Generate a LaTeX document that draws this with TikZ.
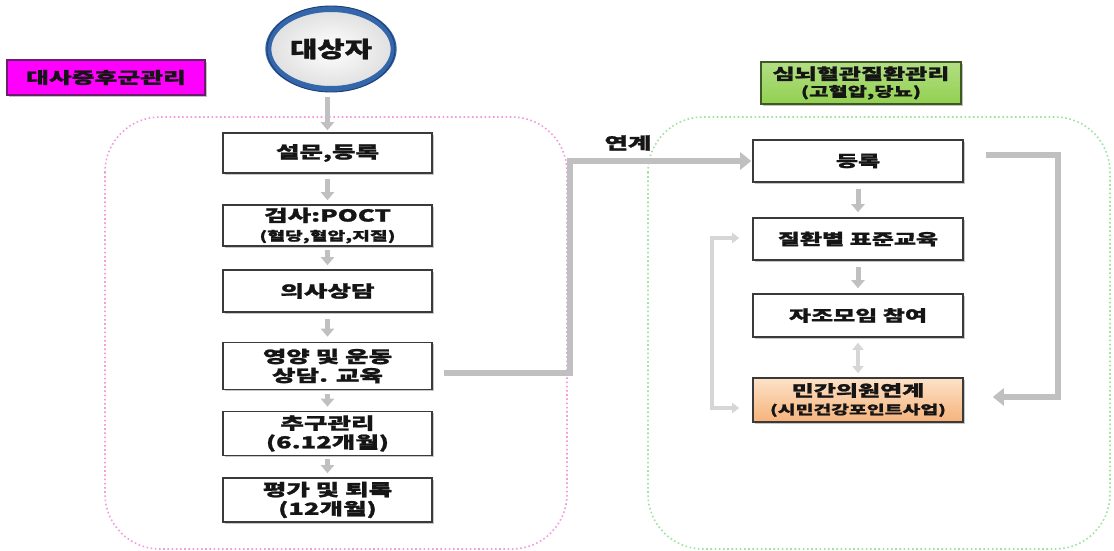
\documentclass[tikz,border=0pt]{standalone}
\usepackage{fontspec}
\usetikzlibrary{arrows.meta,shadows,shapes.geometric}
\newfontfamily\krA[FakeStretch=1.55, BoldFeatures={FakeBold=1.3}]{Noto Sans CJK KR}
\newfontfamily\krB[FakeStretch=1.35, BoldFeatures={FakeBold=1.3}]{Noto Sans CJK KR}
\definecolor{arrgray}{HTML}{C0C0C0}
\definecolor{lightarr}{HTML}{D6D6D6}
\definecolor{boxline}{HTML}{3A3A3A}
\definecolor{pinkdot}{HTML}{F39BDD}
\definecolor{greendot}{HTML}{9EE39E}
\definecolor{magentafill}{HTML}{FF00FF}
\definecolor{magentaline}{HTML}{6B1E6B}
\definecolor{greenfill}{HTML}{92D050}
\definecolor{greenline}{HTML}{3D5A22}
\definecolor{orangetop}{HTML}{FCE2C8}
\definecolor{orangebot}{HTML}{F7B27A}
\definecolor{ringblue}{HTML}{3366AA}
\definecolor{ringdark}{HTML}{1F3F72}
\definecolor{txt}{HTML}{151515}
\tikzset{
  stepbox/.style={rectangle, draw=boxline, line width=1.6pt, fill=white,
    minimum width=209pt, align=center, text=txt, inner sep=0pt,
    drop shadow={shadow xshift=1.5pt, shadow yshift=-1.5pt, fill=gray!55, opacity=0.8}},
  labelbox/.style={rectangle, line width=1.6pt, align=center, text=txt, inner sep=0pt,
    drop shadow={shadow xshift=1.5pt, shadow yshift=-1.5pt, fill=gray!60, opacity=0.8}},
  bigt/.style={font=\krA\bfseries\fontsize{16.5}{19}\selectfont},
  rightt/.style={font=\krA\bfseries\fontsize{15.5}{18}\selectfont},
  gdown/.style={draw=arrgray, line width=5pt, -{Triangle[width=13pt,length=8pt]}},
  gthick/.style={draw=arrgray, line width=6.5pt, -{Triangle[width=17pt,length=11pt]}},
  gthin/.style={draw=lightarr, line width=3.5pt},
  pinkcont/.style={draw=pinkdot, line width=1.6pt, dash pattern=on 1.6pt off 2.6pt},
  greencont/.style={draw=greendot, line width=1.6pt, dash pattern=on 1.6pt off 2.6pt},
}
\newcommand{\smallkr}{\krA\bfseries\fontsize{12.5}{14}\selectfont}
\begin{document}
\begin{tikzpicture}[x=1pt,y=-1pt]
\useasboundingbox (0,0) rectangle (1114,550);
\fill[white] (0,0) rectangle (1114,550);

% containers
\draw[pinkcont, rounded corners=55pt] (105,117) rectangle (567,549);
\draw[greencont, rounded corners=55pt] (648,117) rectangle (1110,549);

% labels
\node[labelbox, draw=magentaline, fill=magentafill, minimum width=198pt, minimum height=35pt,
  font=\krA\bfseries\fontsize{16}{18}\selectfont] (m) at (106,77.5) {대사증후군관리};
\node[labelbox, draw=greenline, top color=greenfill!70!white, bottom color=greenfill,
  minimum width=200pt, minimum height=42pt,
  font=\krA\bfseries\fontsize{15.5}{17}\selectfont] (g) at (861,83)
  {심뇌혈관질환관리\\{\fontsize{13.5}{15}\selectfont (고혈압,당뇨)}};

% start ellipse
\node[ellipse, minimum width=122pt, minimum height=80pt, draw=ringblue, line width=6pt,
  inner color=white, outer color=gray!25,
  drop shadow={shadow xshift=1pt, shadow yshift=-2pt, fill=gray!40, opacity=0.7},
  font=\krB\bfseries\fontsize{22}{24}\selectfont, text=txt] (c) at (331,49) {대상자};
\draw[ringdark, line width=0.9pt] (331,49) ellipse [x radius=64pt, y radius=43pt];

% left column
\node[stepbox, bigt, minimum height=40pt] (b1) at (327.5,153) {설문,등록};
\node[stepbox, bigt, minimum height=41pt] (b2) at (327.5,225.5)
  {검사:POCT\\{\smallkr (혈당,혈압,지질)}};
\node[stepbox, bigt, minimum height=42pt] (b3) at (327.5,291) {의사상담};
\node[stepbox, bigt, minimum height=47pt] (b4) at (327.5,366) {영양 및 운동\\상담. 교육};
\node[stepbox, bigt, minimum height=44pt] (b5) at (327.5,433.5) {추구관리\\(6.12개월)};
\node[stepbox, bigt, minimum height=44pt] (b6) at (327.5,500) {평가 및 퇴록\\(12개월)};

% right column
\node[stepbox, rightt, minimum width=210pt, minimum height=42pt] (r1) at (858,161) {등록};
\node[stepbox, rightt, minimum width=210pt, minimum height=42pt] (r2) at (858,239) {질환별 표준교육};
\node[stepbox, rightt, minimum width=210pt, minimum height=43pt] (r3) at (858,315.5) {자조모임 참여};
\node[stepbox, rightt, minimum width=210pt, minimum height=44pt, fill=none,
  top color=orangetop, bottom color=orangebot] (r4) at (858,400)
  {민간의원연계\\{\smallkr (시민건강포인트사업)}};

% link label
\node[font=\krA\bfseries\fontsize{16.5}{19}\selectfont, text=txt] (lk) at (628,143) {연계};

% left arrows
\draw[gdown, shorten <=5pt, shorten >=2pt] (c.south -| b1.north) -- (b1.north);
\draw[gdown, shorten <=5pt, shorten >=4pt] (b1.south) -- (b2.north);
\draw[gdown, shorten <=3pt, shorten >=4pt] (b2.south) -- (b3.north);
\draw[gdown, shorten <=6pt, shorten >=5pt] (b3.south) -- (b4.north);
\draw[gdown, shorten <=4pt, shorten >=4pt] (b4.south) -- (b5.north);
\draw[gdown, shorten <=3pt, shorten >=4pt] (b5.south) -- (b6.north);

% right arrows
\draw[gdown, shorten <=6pt, shorten >=5pt] (r1.south) -- (r2.north);
\draw[gdown, shorten <=6pt, shorten >=5pt] (r2.south) -- (r3.north);
\draw[draw=lightarr, line width=4pt, {Triangle[width=11pt,length=7pt]}-{Triangle[width=11pt,length=7pt]},
  shorten <=5pt, shorten >=4pt] (r3.south) -- (r4.north);

% link connector
\coordinate (k1) at (570,373);
\draw[gthick, shorten >=1pt] ([xshift=11pt]b4.east |- k1) -- (k1) |- (r1.west);

% return connector
\coordinate (k2) at (1058,155);
\coordinate (k3) at (1058,397);
\draw[gthick] ([xshift=22pt]r1.east |- k2) -- (k2) -- (k3) -- ([xshift=29pt]r4.east |- k3);

% left bracket
\coordinate (lb1) at (712,238);
\coordinate (lb2) at (712,408);
\draw[gthin, {Triangle[width=10pt,length=7pt]}-{Triangle[width=10pt,length=7pt]}]
  ([xshift=-13pt]r2.west |- lb1) -- (lb1) -- (lb2) -- ([xshift=-13pt]r4.west |- lb2);
\end{tikzpicture}
\end{document}
